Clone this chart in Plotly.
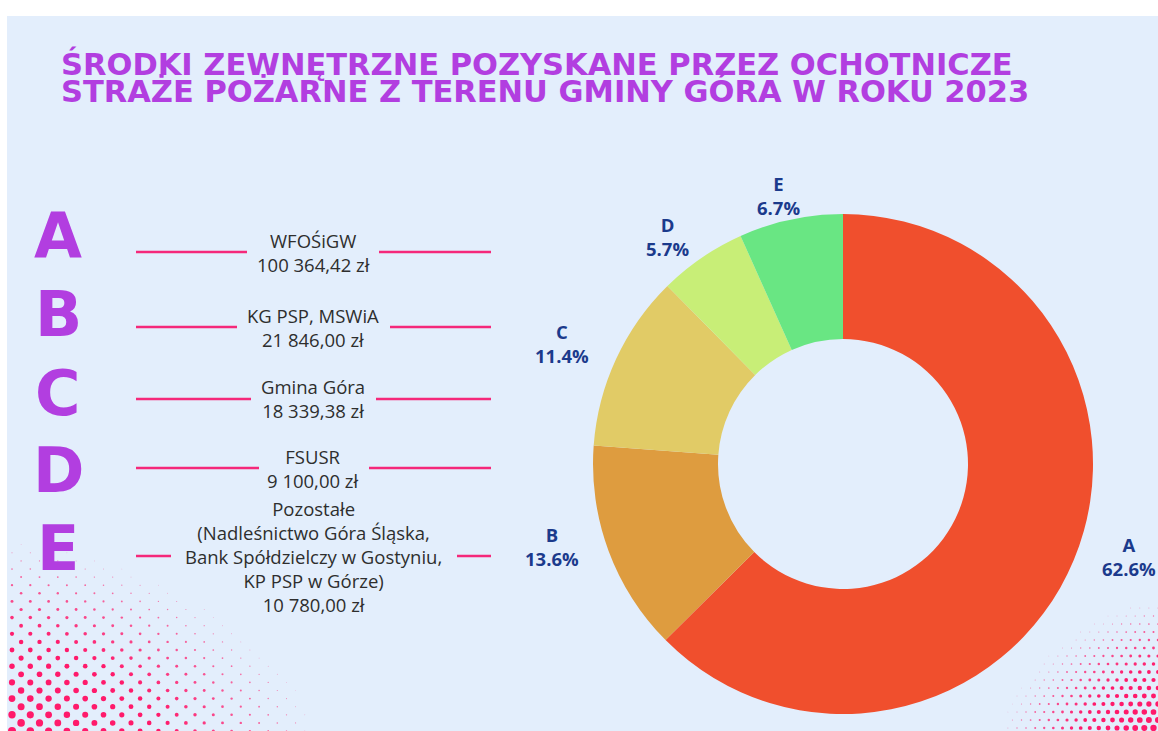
import base64
import math
import plotly.graph_objects as go

W, H = 1158, 731

# ---------------- data ----------------
letters = ["A", "B", "C", "D", "E"]
source_names = [
    "WFOŚiGW",
    "KG PSP, MSWiA",
    "Gmina Góra",
    "FSUSR",
    "Pozostałe<br>(Nadleśnictwo Góra Śląska,<br>Bank Spółdzielczy w Gostyniu,<br>KP PSP w Górze)",
]
amount_labels = ["100 364,42 zł", "21 846,00 zł", "18 339,38 zł", "9 100,00 zł", "10 780,00 zł"]
amounts = [100364.42, 21846.00, 18339.38, 9100.00, 10780.00]
title_lines = [
    "ŚRODKI ZEWNĘTRZNE POZYSKANE PRZEZ OCHOTNICZE",
    "STRAŻE POŻARNE Z TERENU GMINY GÓRA W ROKU 2023",
]

# ---------------- style / layout constants ----------------
slice_colors = ["#F04F2D", "#DE9C3F", "#E1CB66", "#C8EE77", "#69E683"]
BG = "#E3EEFC"
PURPLE = "#B23EE0"
PINK = "#F5287A"
NAVY = "#1B3A8C"
TEXT = "#2E2E2E"

title_y = [64, 90.5]
row_y = [252, 327, 399, 468, 556]          # page y of each row (pink line)
letter_y = [235, 314, 393, 470, 548]       # page y of big letters
gaps = [(247, 379), (237, 390), (251, 376), (259, 369), (171, 457)]
LINE_X0, LINE_X1 = 136, 491
TEXT_X = 313
PIE_CX, PIE_CY, PIE_R = 843, 464, 250      # page px
LABEL_RX, LABEL_RY, LABEL_DY = 310, 265, -9  # label ellipse around the donut


def px(x):
    return x / W


def py(y):
    return 1 - y / H


# ---------------- decorative background (svg) ----------------
def halftone(ox, oy, ex, ey, rmax, xstep, ystep, xdir, p=1.6):
    out = []
    j = 0
    while j * ystep <= ey + ystep:
        y = oy - j * ystep
        off = (xstep / 2) if j % 2 else 0.0
        i = 0
        while i * xstep <= ex + xstep:
            dx = i * xstep + off
            x = ox + xdir * dx
            d = ((dx / ex) ** p + ((oy - y) / ey) ** p) ** (1 / p)
            if d < 1:
                r = rmax * (1 - d)
                if r > 0.35:
                    op = min(1.0, 0.35 + (1 - d) * 1.2)
                    out.append(
                        f'<circle cx="{x:.1f}" cy="{y:.1f}" r="{r:.2f}" '
                        f'fill="#FF1A6B" fill-opacity="{op:.2f}"/>'
                    )
            i += 1
        j += 1
    return out


circles = []
circles += halftone(12, 731, 330, 205, 4.0, 18.3, 8.1, 1)
circles += halftone(1158, 736, 175, 150, 3.4, 9.1, 8.0, -1)
svg = (
    f'<svg xmlns="http://www.w3.org/2000/svg" width="{W}" height="{H}" viewBox="0 0 {W} {H}">'
    f'<rect x="7" y="16" width="{W}" height="{H}" fill="{BG}"/>'
    + "".join(circles)
    + "</svg>"
)
svg_uri = "data:image/svg+xml;base64," + base64.b64encode(svg.encode("utf-8")).decode("ascii")

# ---------------- figure ----------------
fig = go.Figure()

fig.add_trace(
    go.Pie(
        labels=letters,
        values=amounts,
        hole=0.5,
        sort=False,
        direction="clockwise",
        rotation=0,
        marker=dict(colors=slice_colors, line=dict(width=0)),
        textinfo="none",
        domain=dict(x=[px(PIE_CX - PIE_R), px(PIE_CX + PIE_R)],
                    y=[py(PIE_CY + PIE_R), py(PIE_CY - PIE_R)]),
        showlegend=False,
        hoverinfo="label+value+percent",
    )
)

annotations = []
shapes = []

# slice labels (letter + share), placed around the donut at each slice's mid-angle
total = sum(amounts)
cum = 0.0
for k, v in enumerate(amounts):
    frac = v / total
    mid = (cum + frac / 2) * 2 * math.pi  # clockwise from 12 o'clock
    cum += frac
    lx = PIE_CX + LABEL_RX * math.sin(mid)
    ly = PIE_CY + LABEL_DY - LABEL_RY * math.cos(mid)
    annotations.append(
        dict(
            text=f"{letters[k]}<br>{frac * 100:.1f}%",
            x=px(lx),
            y=py(ly),
            xref="paper",
            yref="paper",
            xanchor="center",
            yanchor="middle",
            showarrow=False,
            font=dict(family="Open Sans", size=18.5, color=NAVY, weight="bold"),
        )
    )

# title
for k, line in enumerate(title_lines):
    annotations.append(
        dict(
            text=line,
            x=px(59),
            y=py(title_y[k]),
            xref="paper",
            yref="paper",
            xanchor="left",
            yanchor="middle",
            showarrow=False,
            font=dict(family="DejaVu Sans", size=30.5, color=PURPLE, weight="bold"),
        )
    )

# left-hand list
for k in range(len(letters)):
    annotations.append(
        dict(
            text=letters[k],
            x=px(58),
            y=py(letter_y[k]),
            xref="paper",
            yref="paper",
            xanchor="center",
            yanchor="middle",
            showarrow=False,
            font=dict(family="DejaVu Sans", size=62, color=PURPLE, weight="bold"),
        )
    )
    annotations.append(
        dict(
            text=source_names[k] + "<br>" + amount_labels[k],
            x=px(TEXT_X),
            y=py(row_y[k]),
            xref="paper",
            yref="paper",
            xanchor="center",
            yanchor="middle",
            align="center",
            showarrow=False,
            font=dict(family="Open Sans", size=18.5, color=TEXT),
        )
    )
    g0, g1 = gaps[k]
    for a, b in [(LINE_X0, g0), (g1, LINE_X1)]:
        shapes.append(
            dict(
                type="line",
                xref="paper",
                yref="paper",
                x0=px(a),
                x1=px(b),
                y0=py(row_y[k]),
                y1=py(row_y[k]),
                line=dict(color=PINK, width=2.5),
                layer="above",
            )
        )

fig.update_layout(
    width=W,
    height=H,
    margin=dict(l=0, r=0, t=0, b=0),
    paper_bgcolor="white",
    plot_bgcolor="white",
    annotations=annotations,
    shapes=shapes,
    images=[
        dict(
            source=svg_uri,
            xref="paper",
            yref="paper",
            x=0,
            y=1,
            sizex=1,
            sizey=1,
            xanchor="left",
            yanchor="top",
            sizing="stretch",
            layer="below",
        )
    ],
)

fig.write_html(
    "out.html",
    config={"displayModeBar": False},
    post_script="document.body.style.margin='0';document.body.style.overflow='hidden';",
)
